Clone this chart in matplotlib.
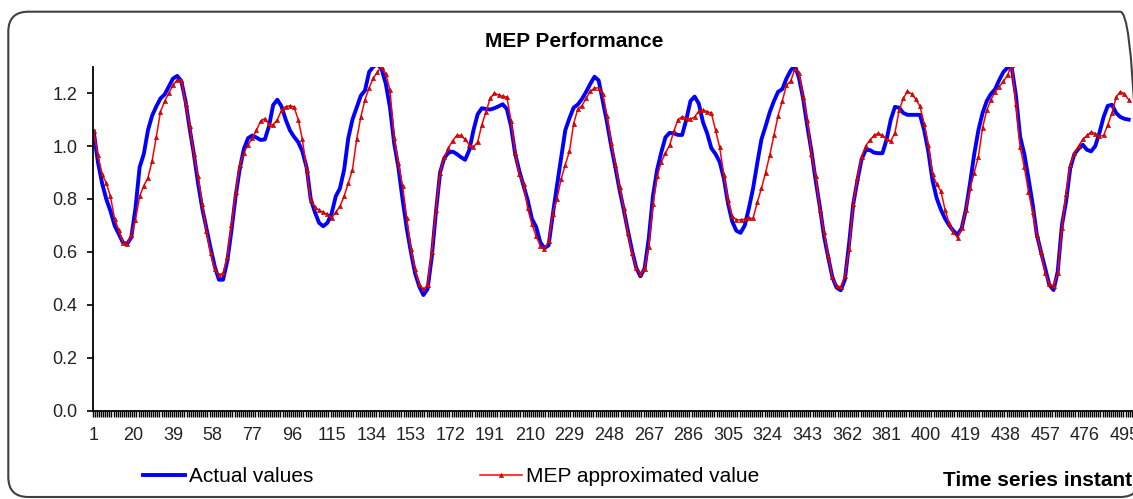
import numpy as np
import matplotlib
matplotlib.use("Agg")
import matplotlib.pyplot as plt
from matplotlib.patches import FancyBboxPatch
from matplotlib.transforms import IdentityTransform

plt.rcParams['font.family'] = ['Liberation Sans', 'DejaVu Sans']

# time series instants (every 2nd instant)
instants = np.arange(1, 498, 2)

actual = [1.055, 0.94, 0.86, 0.80, 0.755, 0.70, 0.668, 0.635, 0.63, 0.655,
          0.765, 0.92, 0.97, 1.06, 1.115, 1.15, 1.18, 1.195, 1.225, 1.255,
          1.265, 1.245, 1.17, 1.065, 0.97, 0.86, 0.765, 0.69, 0.615, 0.545,
          0.495, 0.495, 0.565, 0.68, 0.81, 0.915, 0.99, 1.03, 1.04, 1.032,
          1.023, 1.025, 1.075, 1.155, 1.175, 1.15, 1.10, 1.06, 1.035, 1.015,
          0.98, 0.92, 0.80, 0.75, 0.71, 0.697, 0.71, 0.745, 0.81, 0.84,
          0.91, 1.03, 1.10, 1.145, 1.19, 1.21, 1.28, 1.30, 1.31, 1.29,
          1.235, 1.145, 1.01, 0.92, 0.80, 0.69, 0.60, 0.52, 0.47, 0.437,
          0.46, 0.58, 0.75, 0.90, 0.955, 0.975, 0.979, 0.97, 0.958, 0.948,
          0.985, 1.06, 1.12, 1.143, 1.14, 1.138, 1.143, 1.15, 1.158, 1.14,
          1.075, 0.97, 0.905, 0.85, 0.795, 0.725, 0.695, 0.637, 0.614, 0.625,
          0.74, 0.85, 0.955, 1.06, 1.105, 1.145, 1.157, 1.178, 1.205, 1.235,
          1.262, 1.248, 1.17, 1.09, 1.00, 0.92, 0.835, 0.76, 0.68, 0.605,
          0.54, 0.508, 0.537, 0.65, 0.81, 0.91, 0.976, 1.033, 1.05, 1.048,
          1.042, 1.042, 1.10, 1.17, 1.187, 1.16, 1.09, 1.048, 0.992, 0.97,
          0.94, 0.878, 0.783, 0.715, 0.68, 0.672, 0.70, 0.765, 0.84, 0.935,
          1.025, 1.075, 1.128, 1.17, 1.205, 1.215, 1.255, 1.285, 1.305, 1.258,
          1.18, 1.075, 0.98, 0.87, 0.77, 0.66, 0.58, 0.505, 0.465, 0.455,
          0.495, 0.63, 0.78, 0.87, 0.95, 0.985, 0.985, 0.975, 0.973, 0.973,
          1.025, 1.10, 1.148, 1.145, 1.125, 1.118, 1.118, 1.118, 1.118, 1.06,
          0.979, 0.87, 0.803, 0.76, 0.726, 0.70, 0.68, 0.665, 0.69, 0.76,
          0.86, 0.97, 1.06, 1.125, 1.17, 1.197, 1.215, 1.25, 1.28, 1.297,
          1.295, 1.19, 1.035, 0.97, 0.878, 0.78, 0.665, 0.60, 0.538, 0.475,
          0.456, 0.525, 0.70, 0.79, 0.916, 0.97, 0.99, 1.005, 0.986, 0.98,
          1.00, 1.05, 1.11, 1.152, 1.156, 1.125, 1.11, 1.103, 1.10]

mep = [1.055, 0.965, 0.895, 0.86, 0.81, 0.725, 0.683, 0.635, 0.63, 0.665,
       0.72, 0.81, 0.85, 0.88, 0.945, 1.035, 1.13, 1.17, 1.20, 1.23,
       1.25, 1.25, 1.16, 1.075, 0.97, 0.885, 0.78, 0.68, 0.595, 0.535,
       0.513, 0.52, 0.58, 0.70, 0.825, 0.93, 0.975, 1.005, 1.03, 1.06,
       1.095, 1.104, 1.082, 1.08, 1.10, 1.135, 1.149, 1.152, 1.148, 1.10,
       1.025, 0.91, 0.795, 0.77, 0.757, 0.75, 0.742, 0.728, 0.75, 0.772,
       0.81, 0.86, 0.91, 1.025, 1.11, 1.175, 1.22, 1.257, 1.28, 1.30,
       1.273, 1.21, 1.03, 0.935, 0.85, 0.73, 0.61, 0.535, 0.48, 0.458,
       0.475, 0.60, 0.76, 0.90, 0.96, 0.993, 1.02, 1.04, 1.04, 1.025,
       1.005, 0.997, 1.015, 1.08, 1.13, 1.18, 1.20, 1.193, 1.188, 1.185,
       1.095, 0.975, 0.895, 0.855, 0.765, 0.705, 0.66, 0.624, 0.61, 0.64,
       0.745, 0.80, 0.875, 0.93, 0.98, 1.085, 1.14, 1.153, 1.18, 1.207,
       1.219, 1.22, 1.195, 1.113, 1.01, 0.93, 0.845, 0.765, 0.67, 0.595,
       0.54, 0.516, 0.537, 0.62, 0.78, 0.885, 0.94, 0.973, 1.003, 1.055,
       1.10, 1.111, 1.106, 1.102, 1.11, 1.132, 1.136, 1.13, 1.125, 1.06,
       0.995, 0.89, 0.795, 0.735, 0.721, 0.721, 0.724, 0.727, 0.727, 0.787,
       0.84, 0.90, 0.966, 1.04, 1.115, 1.17, 1.23, 1.245, 1.29, 1.275,
       1.185, 1.10, 0.97, 0.885, 0.76, 0.675, 0.585, 0.505, 0.472, 0.467,
       0.51, 0.61, 0.78, 0.88, 0.96, 1.001, 1.023, 1.04, 1.048, 1.04,
       1.025, 1.019, 1.05, 1.135, 1.18, 1.207, 1.197, 1.177, 1.15, 1.085,
       1.005, 0.895, 0.856, 0.83, 0.76, 0.708, 0.675, 0.653, 0.69, 0.76,
       0.84, 0.90, 0.96, 1.07, 1.135, 1.175, 1.205, 1.225, 1.244, 1.27,
       1.307, 1.16, 0.995, 0.92, 0.828, 0.75, 0.665, 0.60, 0.52, 0.48,
       0.472, 0.52, 0.69, 0.82, 0.929, 0.973, 1.00, 1.025, 1.04, 1.053,
       1.047, 1.037, 1.04, 1.08, 1.125, 1.185, 1.205, 1.198, 1.175]

assert len(actual) == len(instants) and len(mep) == len(instants)

xtick_labels = np.arange(1, 500, 19)
yticks = [0.0, 0.2, 0.4, 0.6, 0.8, 1.0, 1.2]

fig = plt.figure(figsize=(11.33, 4.99), dpi=100)
ax = fig.add_axes([0.0818, 0.177, 0.9208, 0.6894])

ax.plot(instants, actual, color='#0000FF', linewidth=2.8, label='Actual values')
ax.plot(instants, mep, color='#FF0000', linewidth=1.1, marker='^', markersize=3.0,
        markerfacecolor='#FF0000', markeredgecolor='#900000', markeredgewidth=0.4,
        label='MEP approximated value')

ax.set_xlim(0.5, 500.5)
ax.set_ylim(0, 1.3)
ax.spines['top'].set_visible(False)
ax.spines['right'].set_visible(False)
ax.spines['left'].set_linewidth(1.3)
ax.spines['bottom'].set_linewidth(1.3)

ax.set_yticks(yticks)
ax.set_yticklabels([f"{v:.1f}" for v in yticks])
ax.tick_params(axis='y', direction='out', length=4, width=1.2, pad=7, labelsize=13,
               labelcolor='#222222')

ax.set_xticks(xtick_labels)
ax.set_xticklabels([str(v) for v in xtick_labels])
ax.set_xticks(np.arange(0.5, 501, 1), minor=True)
ax.tick_params(axis='x', which='major', length=0, pad=12, labelsize=13,
               labelcolor='#222222')
ax.tick_params(axis='x', which='minor', direction='out', length=4, width=1.0)

ax.set_title('MEP Performance', fontsize=15, fontweight='bold', pad=14.5, x=0.4615)

fig.legend(loc='lower left', bbox_to_anchor=(0.110, -0.012), ncol=2, frameon=False,
           fontsize=15, handlelength=2.0, handletextpad=0.2, columnspacing=8.0)

fig.text(942.7 / 1133, 1 - 480 / 499, 'Time series instant', fontsize=15,
         fontweight='bold', ha='left', va='center')

# rounded chart-area border, partly cut off on the right like the original
frame = FancyBboxPatch((8.3, 2), 1132, 485.3, boxstyle='round,pad=0,rounding_size=20',
                       transform=IdentityTransform(), facecolor='none',
                       edgecolor='#404040', linewidth=1.5)
fig.patches.append(frame)

fig.savefig('out.png', dpi=100)
